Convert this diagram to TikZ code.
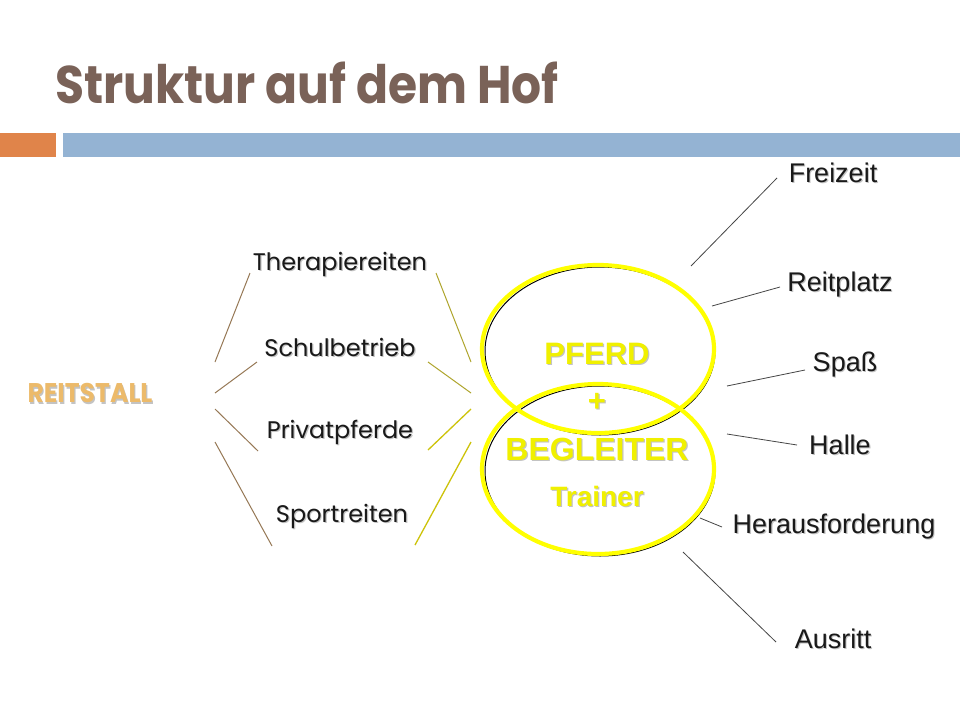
\documentclass[tikz,border=0pt]{standalone}
\usepackage{fontspec}
\setmainfont{Liberation Sans}
\newfontfamily\twfont{Poppins}
\usetikzlibrary{shapes.geometric}
\definecolor{titlebrown}{RGB}{122,98,88}
\definecolor{barorange}{RGB}{224,132,74}
\definecolor{barblue}{RGB}{148,179,211}
\definecolor{stallgold}{RGB}{236,186,106}
\definecolor{textyellow}{RGB}{240,240,0}
\definecolor{ringyellow}{RGB}{255,255,0}
\definecolor{lefttan}{RGB}{150,120,85}
\definecolor{rightolive}{RGB}{175,165,45}
\definecolor{rightyellow}{RGB}{205,195,10}
\definecolor{darkline}{RGB}{70,70,70}
\definecolor{shadowgrey}{RGB}{195,195,195}
\newcommand{\withshadow}[1]{\leavevmode\rlap{\kern1.2pt\raisebox{-1.2pt}{\textcolor{shadowgrey}{#1}}}#1}
\tikzset{
  leftlabel/.style={inner sep=0, text=black!90, font=\twfont\fontsize{24}{24}\selectfont},
  rightlabel/.style={inner sep=0, text=black!90, font=\fontsize{27}{27}\selectfont},
  centerlabel/.style={inner sep=0, text=textyellow, font=\bfseries\fontsize{31}{31}\selectfont},
  ring/.style={ellipse, draw=ringyellow, line width=4.2pt, inner sep=0},
  ringshadow/.style={ellipse, draw=black, line width=1pt, inner sep=0},
  tanline/.style={draw=lefttan, line width=1pt},
  oliveline/.style={draw=rightolive, line width=1pt},
  yelline/.style={draw=rightyellow, line width=1.3pt},
  greyline/.style={draw=darkline, line width=0.8pt}
}
\begin{document}
\begin{tikzpicture}[x=1pt,y=-1pt]
\useasboundingbox (0,0) rectangle (960,720);
\fill[white] (0,0) rectangle (960,720);
% header bars
\fill[barorange] (0,133) rectangle (56,157);
\fill[barblue] (63,133) rectangle (960,157);
% title
\node[anchor=base west, inner sep=0, text=titlebrown, font=\twfont\bfseries\fontsize{53}{53}\selectfont] (title) at (55,103) {\scalebox{0.89}[1]{Struktur auf dem Hof}};
% ellipses
\node[ringshadow, minimum width=230, minimum height=168] (upshadow) at (600,351) {};
\node[ringshadow, minimum width=230, minimum height=170] (lowshadow) at (600,471) {};
\node[ring, minimum width=232, minimum height=168] (upper) at (598,349) {};
\node[ring, minimum width=232, minimum height=170] (lower) at (598,469) {};
% center text
\node[centerlabel] (pferd) at (597,354) {\withshadow{PFERD}};
\node[centerlabel] (plus) at (597,403) {\withshadow{+}};
\node[centerlabel, font=\bfseries\fontsize{32}{32}\selectfont] (begl) at (597,450) {\withshadow{BEGLEITER}};
\node[centerlabel, font=\bfseries\fontsize{28}{28}\selectfont] (trainer) at (597,497) {\withshadow{Trainer}};
% left column
\node[text=stallgold, inner sep=0, font=\twfont\bfseries\fontsize{27}{27}\selectfont] (stall) at (90,394) {\scalebox{0.93}[1]{\withshadow{REITSTALL}}};
\node[leftlabel] (thera) at (340,265) {\withshadow{Therapiereiten}};
\node[leftlabel] (schul) at (340,348) {\withshadow{Schulbetrieb}};
\node[leftlabel] (priv) at (340,433) {\withshadow{Privatpferde}};
\node[leftlabel] (sport) at (342,517) {\withshadow{Sportreiten}};
% right column
\node[rightlabel] (frei) at (833,173) {\withshadow{Freizeit}};
\node[rightlabel] (reit) at (840,285) {\withshadow{Reitplatz}};
\node[rightlabel] (spass) at (845,365) {\withshadow{Spaß}};
\node[rightlabel] (halle) at (840,445) {\withshadow{Halle}};
\node[rightlabel] (heraus) at (834,527) {\withshadow{Herausforderung}};
\node[rightlabel] (ausritt) at (833,639) {\withshadow{Ausritt}};
% connector end points
\coordinate (l1a) at (250,273); \coordinate (l1b) at (215,362);
\coordinate (l2a) at (257,362); \coordinate (l2b) at (215,393);
\coordinate (l3a) at (215,409); \coordinate (l3b) at (258,451);
\coordinate (l4a) at (215,442); \coordinate (l4b) at (272,546);
\coordinate (r1a) at (436,273); \coordinate (r1b) at (471,362);
\coordinate (r2a) at (428,362); \coordinate (r2b) at (471,393);
\coordinate (r3a) at (471,409); \coordinate (r3b) at (428,450);
\coordinate (r4a) at (471,442); \coordinate (r4b) at (415,545);
\coordinate (f1) at (777,178); \coordinate (f2) at (691,266);
\coordinate (p1) at (780,287); \coordinate (p2) at (712,306);
\coordinate (s1) at (805,370); \coordinate (s2) at (727,386);
\coordinate (h1) at (797,445); \coordinate (h2) at (727,434);
\coordinate (e1) at (722,527); \coordinate (e2) at (700,518);
\coordinate (a1) at (776,642); \coordinate (a2) at (683,552);
% left fan
\draw[tanline] (l1a) -- (l1b);
\draw[tanline] (l2a) -- (l2b);
\draw[tanline] (l3a) -- (l3b);
\draw[tanline] (l4a) -- (l4b);
\draw[oliveline] (r1a) -- (r1b);
\draw[oliveline] (r2a) -- (r2b);
\draw[yelline] (r3a) -- (r3b);
\draw[yelline] (r4a) -- (r4b);
% right fan
\draw[greyline] (f1) -- (f2);
\draw[greyline] (p1) -- (p2);
\draw[greyline] (s1) -- (s2);
\draw[greyline] (h1) -- (h2);
\draw[greyline] (e1) -- (e2);
\draw[greyline] (a1) -- (a2);
\end{tikzpicture}
\end{document}
